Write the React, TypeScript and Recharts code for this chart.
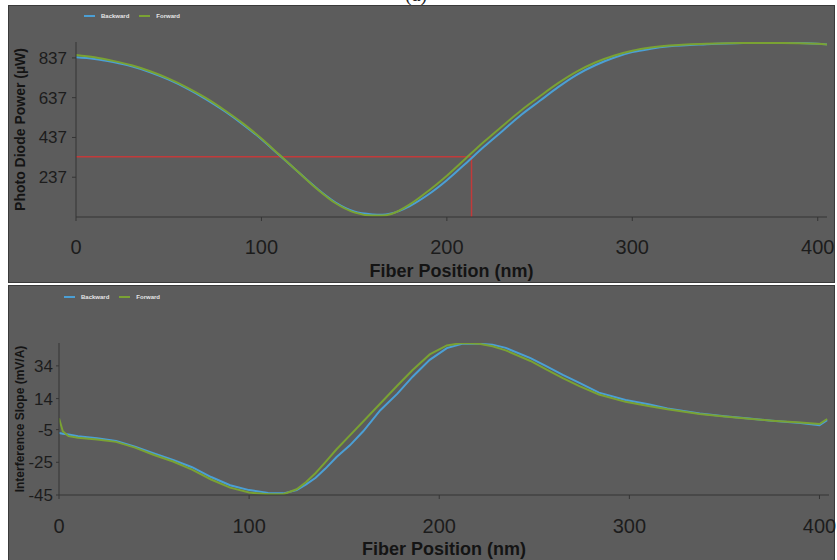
import { LineChart, Line, XAxis, YAxis, ReferenceLine, Legend } from "recharts";

// top panel: photo diode power vs fiber position
const powerPositions = [0, 10, 20, 30, 40, 50, 60, 70, 80, 90, 100, 110, 120, 130, 140, 150, 160, 165, 170, 180, 190, 200, 210, 220, 230, 240, 250, 260, 270, 280, 290, 300, 310, 320, 340, 360, 380, 400, 405];
const powerBackward = [840, 832, 816, 795, 765, 728, 683, 630, 570, 503, 428, 345, 262, 180, 110, 65, 50, 48, 55, 92, 150, 222, 305, 390, 470, 550, 620, 690, 752, 800, 838, 866, 883, 895, 906, 912, 913, 908, 905];
const powerForward = [852, 840, 822, 800, 770, 733, 688, 636, 575, 508, 432, 347, 262, 178, 106, 60, 44, 44, 52, 100, 168, 245, 330, 415, 495, 573, 643, 710, 768, 814, 848, 873, 889, 899, 908, 912, 912, 908, 905];

// bottom panel: interference slope vs fiber position
const slopePositions = [0, 2, 5, 10, 20, 30, 40, 50, 60, 70, 80, 90, 100, 110, 118, 125, 130, 135, 140, 146, 153, 160, 169, 178, 186, 195, 204, 212, 221, 228, 235, 248, 256, 265, 274, 284, 298, 310, 320, 337, 350, 363, 375, 390, 400, 404];
const slopeBackward = [-7, -7.5, -8, -9, -10.3, -12, -15.5, -19.5, -23.5, -28, -34, -39, -42, -43.7, -44, -42, -38.5, -34.5, -29, -21.8, -14.6, -6, 6.9, 17, 27.4, 37.7, 44.9, 47.5, 47.5, 47, 45, 38.7, 34, 28.5, 23.4, 17.6, 13.1, 10.5, 8, 4.9, 3.2, 1.8, 0.5, -0.9, -2.3, 0.8];
const slopeForward = [2, -6, -9, -10, -11, -12.5, -16, -20.5, -24.5, -29.5, -35.5, -40.5, -43.5, -44.5, -44.5, -41.5, -37, -31.5, -25, -17, -8.5, 0, 11, 22, 31.5, 41, 46.5, 48, 47.5, 46, 43.5, 37, 32, 26.5, 21.5, 16.5, 12, 9.5, 7.5, 4.6, 3, 1.6, 0.5, -0.6, -1.6, 1.5];

const positionTicks = [0, 100, 200, 300, 400];
const powerTicks = [237, 437, 637, 837];
const slopeTicks = [-45, -25, -5, 14, 34];
const powerDomain = [37, 917];
const slopeDomain = [-45, 48];

// red marker on the power plot
const markerPosition = 213.3;
const markerPower = 340;

const powerData = powerPositions.map((x, i) => ({ x, backward: powerBackward[i], forward: powerForward[i] }));
const slopeData = slopePositions.map((x, i) => ({ x, backward: slopeBackward[i], forward: slopeForward[i] }));

const BLUE = "#4b9fd5";
const GREEN = "#7aa233";
const BG = "#5c5c5c";
const FONT = "'Liberation Sans', Arial, sans-serif";

const MiniLegend = () => (
  <div style={{ display: "flex", alignItems: "center", gap: 6, fontFamily: FONT, fontSize: 6, fontWeight: 700, color: "#e6e6e6" }}>
    <span style={{ display: "inline-block", width: 11, height: 2, background: BLUE }} />
    <span>Backward</span>
    <span style={{ display: "inline-block", width: 11, height: 2, background: GREEN, marginLeft: 4 }} />
    <span>Forward</span>
  </div>
);

const tickStyle = { fill: "#1c1c1c", fontFamily: FONT };
const titleStyle = { fill: "#141414", fontFamily: FONT, fontWeight: 700 };

export default function App() {
  return (
    <div style={{ position: "absolute", left: 0, top: 0, width: 837, height: 560, background: "#fff", overflow: "hidden" }}>
      <div style={{ position: "absolute", left: 405, top: -17, fontFamily: "serif", fontSize: 20, color: "#222" }}>(a)</div>
      <div style={{ position: "absolute", left: 8, top: 5, width: 825, height: 276, background: BG, border: "1px solid #3a3a3a" }} />
      <div style={{ position: "absolute", left: 8, top: 285, width: 825, height: 280, background: BG, border: "1px solid #3a3a3a" }} />

      <div style={{ position: "absolute", left: 0, top: 0 }}>
        <LineChart width={837} height={282} data={powerData} margin={{ top: 42, right: 10, left: 6, bottom: 0 }}>
          <XAxis
            dataKey="x" type="number" domain={[0, 405]} ticks={positionTicks} allowDataOverflow
            height={65} stroke="#353535" tickSize={4} tickMargin={19}
            tick={{ ...tickStyle, fontSize: 20 }}
            label={{ value: "Fiber Position (nm)", position: "insideBottom", offset: 5, style: { ...titleStyle, fontSize: 18 } }}
          />
          <YAxis
            type="number" domain={powerDomain} ticks={powerTicks} allowDataOverflow
            width={70} stroke="#353535" tickSize={4} tickMargin={5}
            tick={{ ...tickStyle, fontSize: 17 }}
            label={{ value: "Photo Diode Power (µW)", angle: -90, position: "insideLeft", offset: 14, style: { ...titleStyle, fontSize: 14, textAnchor: "middle" } }}
          />
          <Legend layout="vertical" align="center" verticalAlign="middle" content={<MiniLegend />}
            wrapperStyle={{ top: 13, left: 84, width: "auto" }} />
          <ReferenceLine segment={[{ x: 0, y: markerPower }, { x: markerPosition, y: markerPower }]} stroke="#c23a3a" strokeWidth={1.5} ifOverflow="visible" />
          <ReferenceLine segment={[{ x: markerPosition, y: markerPower }, { x: markerPosition, y: powerDomain[0] }]} stroke="#c23a3a" strokeWidth={1.5} ifOverflow="visible" />
          <Line type="monotone" dataKey="backward" name="Backward" stroke={BLUE} strokeWidth={2} dot={false} isAnimationActive={false} />
          <Line type="monotone" dataKey="forward" name="Forward" stroke={GREEN} strokeWidth={2} dot={false} isAnimationActive={false} />
        </LineChart>
      </div>

      <div style={{ position: "absolute", left: 0, top: 285 }}>
        <LineChart width={837} height={275} data={slopeData} margin={{ top: 58, right: 8, left: 7, bottom: 0 }}>
          <XAxis
            dataKey="x" type="number" domain={[0, 405]} ticks={positionTicks} allowDataOverflow
            height={65} stroke="#353535" tickSize={4} tickMargin={20}
            tick={{ ...tickStyle, fontSize: 20 }}
            label={{ value: "Fiber Position (nm)", position: "insideBottom", offset: 5, style: { ...titleStyle, fontSize: 18 } }}
          />
          <YAxis
            type="number" domain={slopeDomain} ticks={slopeTicks} allowDataOverflow
            width={52} stroke="#353535" tickSize={3} tickMargin={3}
            tick={{ ...tickStyle, fontSize: 17 }}
            label={{ value: "Interference Slope (mV/A)", angle: -90, position: "insideLeft", offset: 13, style: { ...titleStyle, fontSize: 12, textAnchor: "middle" } }}
          />
          <Legend layout="vertical" align="center" verticalAlign="middle" content={<MiniLegend />}
            wrapperStyle={{ top: 9, left: 64, width: "auto" }} />
          <Line type="linear" dataKey="backward" name="Backward" stroke={BLUE} strokeWidth={2} dot={false} isAnimationActive={false} />
          <Line type="linear" dataKey="forward" name="Forward" stroke={GREEN} strokeWidth={2} dot={false} isAnimationActive={false} />
        </LineChart>
      </div>
    </div>
  );
}
